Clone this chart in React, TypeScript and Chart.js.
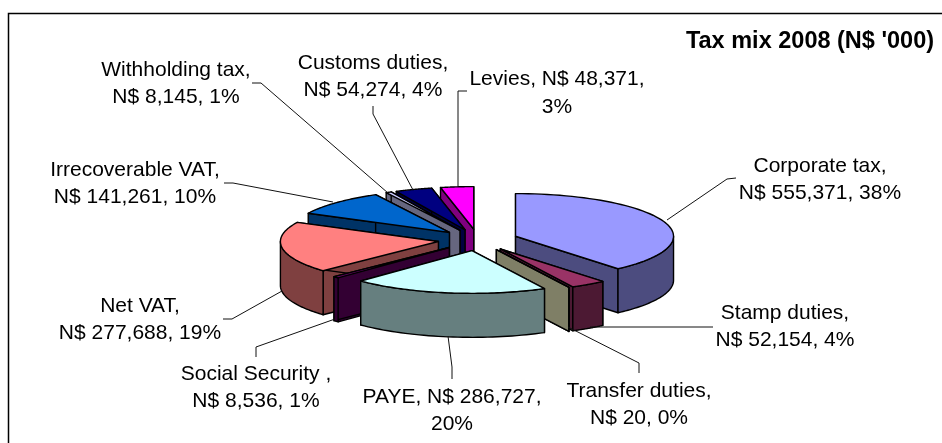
import React, { useEffect, useRef } from "react";
import { Chart, registerables } from "chart.js";

Chart.register(...registerables);

const categories = ["Corporate tax", "Stamp duties", "Transfer duties", "PAYE", "Social Security ", "Net VAT", "Irrecoverable VAT", "Withholding tax", "Customs duties", "Levies"];
const values = [555371, 52154, 20, 286727, 8536, 277688, 141261, 8145, 54274, 48371];
const topColors = ["#9999FF", "#993366", "#FFFFCC", "#CCFFFF", "#660066", "#FF8080", "#0066CC", "#CCCCFF", "#000080", "#FF00FF"];
const wallColors = ["#4C4C7F", "#4C1933", "#7F7F66", "#667F7F", "#330033", "#7F4040", "#003366", "#66667F", "#000040", "#7F007F"];
const titleText = "Tax mix 2008 (N$ '000)";
const labelLines = [
  ["Corporate tax,", "N$ 555,371, 38%"],
  ["Stamp duties,", "N$ 52,154, 4%"],
  ["Transfer duties,", "N$ 20, 0%"],
  ["PAYE, N$ 286,727,", "20%"],
  ["Social Security ,", "N$ 8,536, 1%"],
  ["Net VAT,", "N$ 277,688, 19%"],
  ["Irrecoverable VAT,", "N$ 141,261, 10%"],
  ["Withholding tax,", "N$ 8,145, 1%"],
  ["Customs duties,", "N$ 54,274, 4%"],
  ["Levies, N$ 48,371,", "3%"],
];
// label centre x, first and second line centre y
const labelSpots = [[820, 166, 193], [785, 313, 340], [639, 391, 418], [452, 397, 424], [256, 374, 401], [140, 306, 333], [135, 170, 197], [176, 70, 97], [373, 63, 90], [557, 79, 107]];
const leaders = [
  [[736, 178], [727, 179], [667, 220]],
  [[713, 327], [590, 327]],
  [[639, 373], [639, 363], [568, 327]],
  [[452, 379], [452, 367], [448, 336]],
  [[256, 357], [256, 347], [335, 319]],
  [[223, 319], [232, 319], [282, 291]],
  [[224, 183], [233, 183], [333, 202]],
  [[252, 83], [261, 83], [388, 193]],
  [[373, 106], [373, 114], [413, 190]],
  [[467, 91], [458, 91], [458, 187]],
];
const paintOrder = [9, 8, 7, 6, 0, 5, 4, 1, 2, 3];
const TILT = 0.27;
const DEPTH = 44;
const RADIUS = 158;
const EXPLODE = 40;

const pie3d = {
  id: "pie3d",
  beforeDatasetsDraw(chart: any) {
    const ctx = chart.ctx as CanvasRenderingContext2D;
    const arcs = chart.getDatasetMeta(0).data;
    ctx.save();
    ctx.lineJoin = "round";
    ctx.strokeStyle = "#000";
    ctx.lineWidth = 1.4;
    for (const i of paintOrder) {
      const el = arcs[i];
      const { x, y, startAngle: a, endAngle: b, outerRadius: r } = el.getProps(["x", "y", "startAngle", "endAngle", "outerRadius"], true);
      const mid = (a + b) / 2;
      const ox = Math.cos(mid) * EXPLODE;
      const oy = Math.sin(mid) * EXPLODE * TILT;
      const px = (ang: number, rad: number, d: number): [number, number] => [
        x + ox + Math.cos(ang) * rad,
        y + oy + Math.sin(ang) * rad * TILT + d,
      ];
      const shape = (pts: [number, number][], fill: string) => {
        ctx.beginPath();
        pts.forEach((p, k) => (k ? ctx.lineTo(p[0], p[1]) : ctx.moveTo(p[0], p[1])));
        ctx.closePath();
        ctx.fillStyle = fill;
        ctx.fill();
        ctx.stroke();
      };
      const wall = wallColors[i];
      for (const ang of [a, b]) {
        shape([px(ang, 0, 0), px(ang, r, 0), px(ang, r, DEPTH), px(ang, 0, DEPTH)], wall);
      }
      const lo = Math.max(a, 0);
      const hi = Math.min(b, Math.PI);
      if (hi > lo) {
        const upper: [number, number][] = [];
        const lower: [number, number][] = [];
        for (let s = 0; s <= 40; s++) {
          const t = lo + ((hi - lo) * s) / 40;
          upper.push(px(t, r, 0));
          lower.unshift(px(t, r, DEPTH));
        }
        shape([...upper, ...lower], wall);
      }
      ctx.save();
      ctx.translate(ox, y + oy);
      ctx.scale(1, TILT);
      ctx.translate(0, -y);
      el.draw(ctx);
      ctx.restore();
      const outline: [number, number][] = [px(a, 0, 0)];
      for (let s = 0; s <= 60; s++) outline.push(px(a + ((b - a) * s) / 60, r, 0));
      ctx.beginPath();
      outline.forEach((p, k) => (k ? ctx.lineTo(p[0], p[1]) : ctx.moveTo(p[0], p[1])));
      ctx.closePath();
      ctx.stroke();
    }
    ctx.restore();
    return false;
  },
  afterDraw(chart: any) {
    const ctx = chart.ctx as CanvasRenderingContext2D;
    ctx.save();
    ctx.strokeStyle = "#000";
    ctx.lineWidth = 1.5;
    ctx.beginPath();
    ctx.moveTo(8.5, 443);
    ctx.lineTo(8.5, 13.5);
    ctx.lineTo(942, 13.5);
    ctx.stroke();
    ctx.lineWidth = 1;
    ctx.strokeStyle = "#111";
    leaders.forEach((line) => {
      ctx.beginPath();
      line.forEach((p, k) => (k ? ctx.lineTo(p[0], p[1]) : ctx.moveTo(p[0], p[1])));
      ctx.stroke();
    });
    ctx.fillStyle = "#000";
    ctx.textAlign = "center";
    ctx.textBaseline = "middle";
    ctx.font = "21px 'Liberation Sans'";
    labelLines.forEach((lines, i) => {
      const [cx, y1, y2] = labelSpots[i];
      ctx.fillText(lines[0], cx, y1);
      ctx.fillText(lines[1], cx, y2);
    });
    ctx.font = "bold 23.5px 'Liberation Sans'";
    ctx.fillText(titleText, 810, 42);
    ctx.restore();
  },
};

export default function App() {
  const ref = useRef<HTMLCanvasElement>(null);
  useEffect(() => {
    const chart = new Chart(ref.current!, {
      type: "pie",
      data: {
        labels: categories,
        datasets: [{ data: values, backgroundColor: topColors, borderWidth: 0, radius: RADIUS }],
      },
      options: {
        responsive: false,
        animation: false,
        layout: { padding: { left: 14, top: 37 } },
        plugins: { legend: { display: false }, title: { display: false }, tooltip: { enabled: false } },
      },
      plugins: [pie3d],
    } as any);
    return () => chart.destroy();
  }, []);
  return <canvas ref={ref} width={942} height={443} style={{ position: "fixed", left: 0, top: 0, display: "block", background: "#fff" }} />;
}
